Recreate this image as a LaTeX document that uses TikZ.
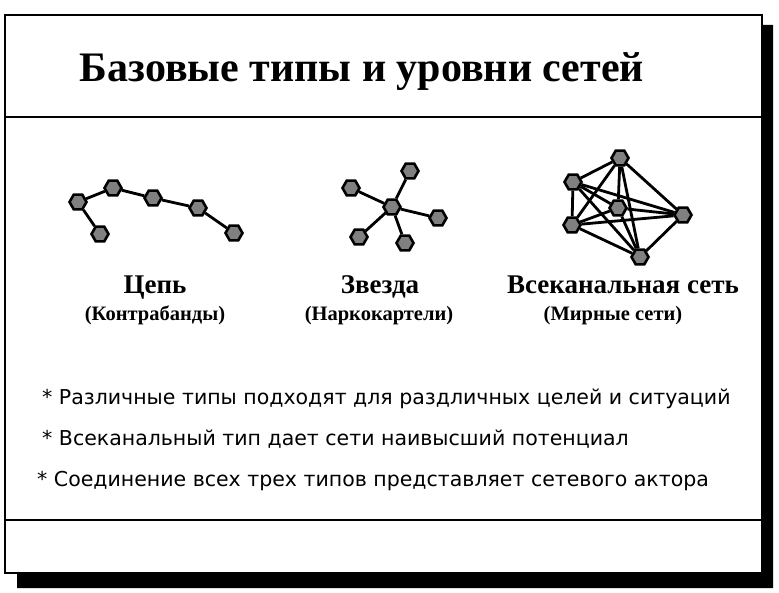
\documentclass[tikz,border=0pt]{standalone}
\usepackage{fontspec}
\setmainfont{Liberation Serif}
\setsansfont{DejaVu Sans}
\usetikzlibrary{
    shapes.geometric,
}
\newcommand{\netnodesize}{17pt}
\newcommand{\linkwidth}{2.8pt}
\newcommand{\framewidth}{2pt}
\tikzstyle{netlink} = [line width=\linkwidth, color=black]
\tikzstyle{netnode} = [
  draw,
  shape=regular polygon,
  regular polygon sides=6,
  color=black,
  fill=gray,
  line width=2.6pt,
  minimum size=\netnodesize,
  inner sep=0pt,
]
\tikzstyle{titletext} = [font=\bfseries\fontsize{42}{48}\selectfont, inner sep=0pt]
\tikzstyle{typename} = [font=\bfseries\fontsize{27}{32}\selectfont, inner sep=0pt]
\tikzstyle{typeexample} = [font=\bfseries\fontsize{20.5}{24}\selectfont, inner sep=0pt]
\tikzstyle{bullettext} = [font=\sffamily\fontsize{20.5}{24}\selectfont, inner sep=0pt, anchor=base west]

\begin{document}
\begin{tikzpicture}[
    x=1pt, y=-1pt,
    ]
    \useasboundingbox (0,0) rectangle (779,593);
    % frame with shadow
    \fill[black] (762,25) -- (773,25) -- (773,588) -- (17,588) -- (17,573) -- (762,573) -- cycle;
    \draw[line width=\framewidth, fill=white] (5,15) rectangle (762,573);
    \draw[line width=\framewidth] (5,117) -- (762,117);
    \draw[line width=\framewidth] (5,520) -- (762,520);

    \node[titletext, anchor=base] (title) at (362,82) {Базовые типы и уровни сетей};

    % chain
    \node[netnode] (c1) at (78,202) {};
    \node[netnode] (c2) at (113,188) {};
    \node[netnode] (c3) at (153,198) {};
    \node[netnode] (c4) at (198,208) {};
    \node[netnode] (c5) at (234,233) {};
    \node[netnode] (c0) at (100,234) {};
    \foreach \a/\b in {c0/c1, c1/c2, c2/c3, c3/c4, c4/c5}
      \draw[netlink] (\a) -- (\b);

    % star
    \node[netnode] (s0) at (392,207) {};
    \node[netnode] (s1) at (410,171) {};
    \node[netnode] (s2) at (351,188) {};
    \node[netnode] (s3) at (438,218) {};
    \node[netnode] (s4) at (359,237) {};
    \node[netnode] (s5) at (405,243) {};
    \foreach \b in {s1, s2, s3, s4, s5}
      \draw[netlink] (s0) -- (\b);

    % all-channel
    \node[netnode] (w1) at (620,158) {};
    \node[netnode] (w2) at (573,182) {};
    \node[netnode] (w3) at (618,208) {};
    \node[netnode] (w4) at (683,215) {};
    \node[netnode] (w5) at (572,225) {};
    \node[netnode] (w6) at (640,257) {};
    \foreach \i in {1,...,5} {
      \pgfmathtruncatemacro{\k}{\i+1}
      \foreach \j in {\k,...,6}
        \draw[netlink] (w\i) -- (w\j);
    }

    \node[typename, anchor=base] (chainname) at (155,294) {Цепь};
    \node[typeexample, anchor=base] (chainex) at (155,321) {(Контрабанды)};
    \node[typename, anchor=base] (starname) at (380,294) {Звезда};
    \node[typeexample, anchor=base] (starex) at (379,321) {(Наркокартели)};
    \node[typename, anchor=base] (allname) at (623,294) {Всеканальная сеть};
    \node[typeexample, anchor=base] (allex) at (613,321) {(Мирные сети)};

    \node[bullettext] (note1) at (42,404) {* Различные типы подходят для раздличных целей и ситуаций};
    \node[bullettext] (note2) at (42,445) {* Всеканальный тип дает сети наивысший потенциал};
    \node[bullettext] (note3) at (37,486) {* Соединение всех трех типов представляет сетевого актора};
\end{tikzpicture}
\end{document}
